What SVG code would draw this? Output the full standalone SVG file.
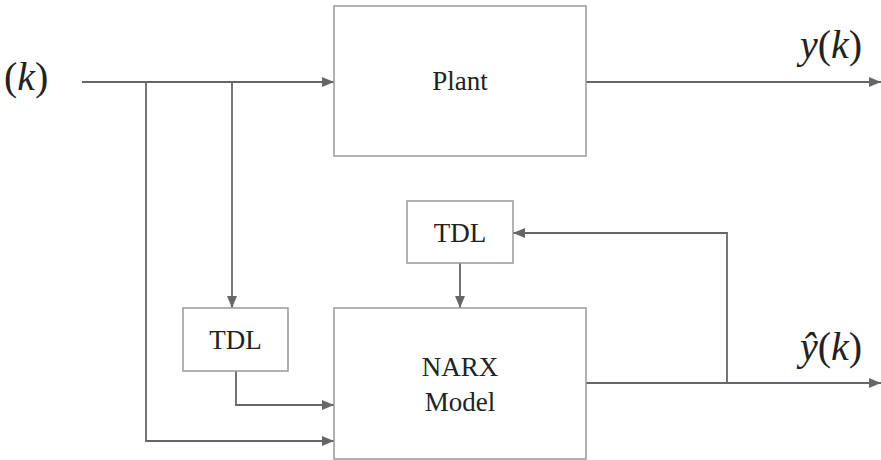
<svg xmlns="http://www.w3.org/2000/svg" width="881" height="460" viewBox="0 0 881 460">
  <defs>
    <marker id="arrow" viewBox="0 0 12 10" refX="12" refY="5" markerWidth="12" markerHeight="10" markerUnits="userSpaceOnUse" orient="auto">
      <path d="M0,0 L12,5 L0,10 Z" fill="#666"/>
    </marker>
  </defs>
  <style>
    .box { fill: #fff; stroke: #999; stroke-width: 1.5; }
    .wire { fill: none; stroke: #666; stroke-width: 1.8; }
    .lbl { font-family: "Liberation Serif", "Times New Roman", serif; font-size: 27px; fill: #222; text-anchor: middle; }
    .math { font-family: "Liberation Serif", "Times New Roman", serif; font-size: 40px; fill: #222; }
  </style>
  <rect width="881" height="460" fill="#fff"/>

  <g id="connectors">
    <!-- input to plant -->
    <path class="wire" d="M82,82 H334" marker-end="url(#arrow)"/>
    <!-- input branch to lower TDL -->
    <path class="wire" d="M232,82 V308" marker-end="url(#arrow)"/>
    <!-- input branch straight into NARX model -->
    <path class="wire" d="M146,82 V441 H334" marker-end="url(#arrow)"/>
    <!-- lower TDL into NARX model -->
    <path class="wire" d="M236,371 V405 H334" marker-end="url(#arrow)"/>
    <!-- plant output -->
    <path class="wire" d="M586,82 H881" marker-end="url(#arrow)"/>
    <!-- model output -->
    <path class="wire" d="M586,383 H881" marker-end="url(#arrow)"/>
    <!-- feedback of model output to upper TDL -->
    <path class="wire" d="M727,383 V233 H513" marker-end="url(#arrow)"/>
    <!-- upper TDL into NARX model -->
    <path class="wire" d="M460,263 V308" marker-end="url(#arrow)"/>
  </g>

  <g id="plant">
    <rect class="box" x="334" y="6" width="252" height="150"/>
    <text class="lbl" x="460" y="90">Plant</text>
  </g>

  <g id="narx-model">
    <rect class="box" x="334" y="308" width="252" height="151"/>
    <text class="lbl" x="460" y="376">NARX</text>
    <text class="lbl" x="460" y="411">Model</text>
  </g>

  <g id="tdl-input">
    <rect class="box" x="183" y="308" width="105" height="63"/>
    <text class="lbl" x="235.5" y="349">TDL</text>
  </g>

  <g id="tdl-feedback">
    <rect class="box" x="407" y="201" width="106" height="62"/>
    <text class="lbl" x="460" y="242">TDL</text>
  </g>

  <g id="labels">
    <text class="math" x="4" y="90">(<tspan font-style="italic">k</tspan>)</text>
    <text class="math" x="800" y="58"><tspan font-style="italic">y</tspan>(<tspan font-style="italic">k</tspan>)</text>
    <text class="math" x="800" y="360"><tspan font-style="italic">ŷ</tspan>(<tspan font-style="italic">k</tspan>)</text>
  </g>
</svg>
